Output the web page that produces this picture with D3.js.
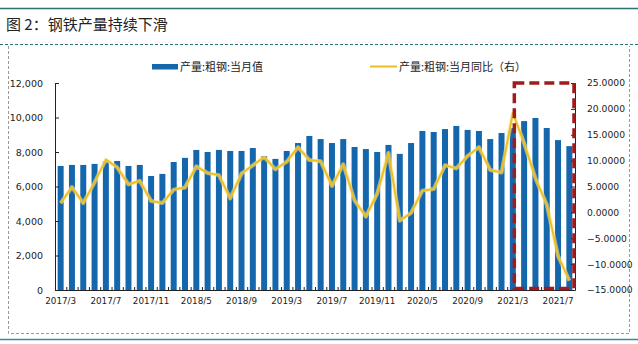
<!DOCTYPE html>
<html><head><meta charset="utf-8">
<script src="https://cdn.jsdelivr.net/npm/d3@7/dist/d3.min.js"></script>
<style>
html,body{margin:0;padding:0;background:#fff;}
svg{display:block;}
</style>
</head><body>
<svg id="c" width="638" height="344"></svg>
<script>
const months = ["2017/3","2017/4","2017/5","2017/6","2017/7","2017/8","2017/9","2017/10","2017/11","2017/12",
"2018/3","2018/4","2018/5","2018/6","2018/7","2018/8","2018/9","2018/10","2018/11","2018/12",
"2019/3","2019/4","2019/5","2019/6","2019/7","2019/8","2019/9","2019/10","2019/11","2019/12",
"2020/3","2020/4","2020/5","2020/6","2020/7","2020/8","2020/9","2020/10","2020/11","2020/12",
"2021/3","2021/4","2021/5","2021/6","2021/7","2021/8"];
const output = [7190,7250,7250,7310,7450,7480,7190,7250,6610,6730,
7420,7660,8120,8000,8120,8060,8060,8230,7760,7600,
8060,8520,8930,8750,8520,8750,8290,8170,8000,8410,
7890,8520,9220,9160,9330,9510,9280,9220,8750,9100,
9390,9790,9970,9390,8690,8340];
const yoy = [1.8,4.9,1.8,5.8,10.2,8.7,5.4,6.1,2.2,1.8,
4.4,4.8,8.9,7.6,7.2,2.7,7.5,9.1,10.7,8.3,
9.8,12.6,10.1,9.9,5.1,9.3,2.3,-0.8,3.6,11.5,
-1.6,-0.1,4.2,4.5,9.1,8.5,10.9,12.6,8.2,7.7,
19.2,13.4,6.6,1.5,-8.4,-13.2];
const xTickLabels = ["2017/3","2017/7","2017/11","2018/5","2018/9","2019/3","2019/7","2019/11","2020/5","2020/9","2021/3","2021/7"];
const leftTicks = [0,2000,4000,6000,8000,10000,12000];
const rightTicks = [-15,-10,-5,0,5,10,15,20,25];
const title = "图 2：钢铁产量持续下滑";
const seriesNames = ["产量:粗钢:当月值","产量:粗钢:当月同比（右）"];

const svg = d3.select("#c");
const L = 55, R = 575, T = 83, B = 290;
const numFont = "DejaVu Sans, Verdana, sans-serif";
const cjkFont = "'Noto Sans CJK SC', sans-serif";

// frame decorations
svg.append("line").attr("x1",0).attr("x2",638).attr("y1",8.5).attr("y2",8.5).attr("stroke","#2a7373").attr("stroke-width",1.5);
svg.append("text").attr("x",6).attr("y",30).attr("font-family",cjkFont).attr("font-size",15).attr("fill","#222").text(title);
svg.append("line").attr("x1",0).attr("x2",638).attr("y1",44.5).attr("y2",44.5).attr("stroke","#2a7373").attr("stroke-width",1).attr("stroke-dasharray","3,2");
svg.append("path").attr("d","M8.5,46 V333.5 H629.5 V46").attr("fill","none").attr("stroke","#9a9a9a").attr("stroke-width",1).attr("stroke-dasharray","3,2");
svg.append("line").attr("x1",0).attr("x2",638).attr("y1",339.5).attr("y2",339.5).attr("stroke","#3a8a95").attr("stroke-width",1.5);

const x = d3.scaleBand().domain(months).range([L,R]).paddingInner(0.47).paddingOuter(0.235);
const yL = d3.scaleLinear().domain([0,12000]).range([B,T]);
const yR = d3.scaleLinear().domain([-15,25]).range([B,T]);

// bars
svg.append("g").selectAll("rect").data(output).join("rect")
  .attr("x",(d,i)=>x(months[i])).attr("width",x.bandwidth())
  .attr("y",d=>yL(d)).attr("height",d=>B-yL(d)).attr("fill","#1467ad");

// line
const line = d3.line().x((d,i)=>x(months[i])+x.bandwidth()/2).y(d=>yR(d));
svg.append("path").datum(yoy).attr("d",line).attr("fill","none").attr("stroke","#f7e594").attr("stroke-width",4).attr("opacity",0.6).attr("stroke-linejoin","round");
svg.append("path").datum(yoy).attr("d",line).attr("fill","none").attr("stroke","#eebf22").attr("stroke-width",2).attr("stroke-linejoin","round");

// axes
const gL = svg.append("g").attr("transform",`translate(${L},0)`)
  .call(d3.axisLeft(yL).tickValues(leftTicks).tickFormat(d3.format(",")).tickSize(-4).tickPadding(12));
const gR = svg.append("g").attr("transform",`translate(${R},0)`)
  .call(d3.axisRight(yR).tickValues(rightTicks).tickFormat(d3.format(".4f")).tickSize(-4).tickPadding(12));
const xb = d3.scaleBand().domain(months).range([L,R]);
const gX = svg.append("g").attr("transform",`translate(0,${B})`)
  .call(d3.axisBottom(x).tickValues(xTickLabels).tickSize(0).tickPadding(8));
// category boundary ticks
svg.append("g").selectAll("line").data(months.concat(["end"])).join("line")
  .attr("x1",(d,i)=>L+i*xb.step()+0.5).attr("x2",(d,i)=>L+i*xb.step()+0.5)
  .attr("y1",B).attr("y2",B-3).attr("stroke","#222").attr("stroke-width",1);

[gL,gR,gX].forEach(g=>{
  g.selectAll("path.domain").attr("stroke","#222");
  g.selectAll(".tick line").attr("stroke","#222");
  g.selectAll("text").attr("font-family",numFont).attr("fill","#222");
});
gL.selectAll("text").attr("font-size",9.5);
gR.selectAll("text").attr("font-size",9.2);
gX.selectAll("text").attr("font-size",8.8);
gX.select("path.domain").attr("d",`M${L},0.5H${R}`);

// red dashed highlight rectangle
const rx1 = x("2021/3")+x.bandwidth()/2+1.5, rx2 = R-1, ry1 = yR(25), ry2 = B-1.5;
svg.append("path").attr("d",`M${rx1},${ry1}H${rx2}V${ry2}H${rx1}Z`)
  .attr("fill","none").attr("stroke","#a31a1c").attr("stroke-width",3.5).attr("stroke-dasharray","10,5");

// legend
svg.append("rect").attr("x",152).attr("y",64).attr("width",26).attr("height",5.5).attr("fill","#1467ad");
svg.append("text").attr("x",180).attr("y",70.5).attr("font-family",cjkFont).attr("font-size",11).attr("fill","#222").text(seriesNames[0]);
svg.append("line").attr("x1",370).attr("x2",397).attr("y1",66.5).attr("y2",66.5).attr("stroke","#eebf22").attr("stroke-width",2);
svg.append("text").attr("x",399).attr("y",70.5).attr("font-family",cjkFont).attr("font-size",11).attr("fill","#222").text(seriesNames[1]);
</script>
</body></html>
